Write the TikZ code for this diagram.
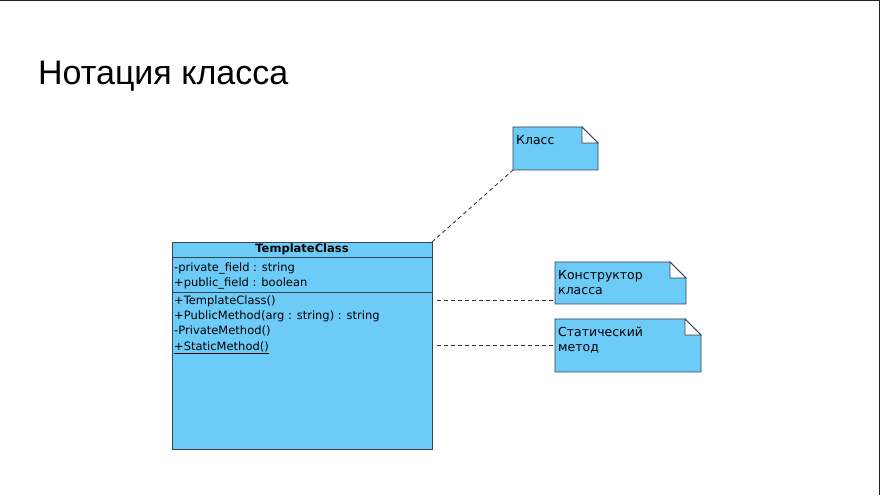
\documentclass[tikz,border=0pt]{standalone}
\usepackage{fontspec}
\setmainfont{Liberation Sans}
\newfontfamily\umlfont{DejaVu Sans}
\usetikzlibrary{positioning}
\definecolor{umlblue}{RGB}{108,203,247}
\definecolor{umledge}{RGB}{55,66,82}
\tikzset{
  classpart/.style = {draw=umledge, fill=umlblue, line width=0.9pt, minimum width=260pt,
    inner sep=0pt, outer sep=0pt, font=\umlfont\fontsize{11.5}{13}\selectfont},
  member/.style = {anchor=west, inner sep=2pt, text height=8.5pt, text depth=2.5pt,
    font=\umlfont\fontsize{11.5}{13}\selectfont},
  notebox/.style = {inner sep=0pt, outer sep=0pt},
  notedraw/.style = {draw=umledge, fill=umlblue, line width=0.9pt},
  notetext/.style = {anchor=north west, align=left, inner xsep=3pt, inner ysep=8pt,
    font=\umlfont\fontsize{12.5}{15}\selectfont},
  attach/.style = {draw=black!80, dash pattern=on 4pt off 3pt, line width=0.8pt},
  frameline/.style = {draw=black!87, line width=1.2pt}
}
\newcommand{\umlnote}[5]{%
  \node[notebox, minimum width=#3, minimum height=#4, anchor=north west] (#1) at #2 {};
  \draw[notedraw] (#1.south west) -- (#1.north west) -- ([xshift=-16pt]#1.north east)
    -- ([yshift=-16pt]#1.north east) -- (#1.south east) -- cycle;
  \draw[notedraw, fill=white] ([xshift=-16pt]#1.north east) |- ([yshift=-16pt]#1.north east) -- cycle;
  \node[notetext] at (#1.north west) {#5};
}

\begin{document}
\begin{tikzpicture}[x=1pt, y=1pt]
  \useasboundingbox (0,0) rectangle (880,495);
  \draw[frameline] (0,494.5) -- (879.5,494.5) -- (879.5,0);
  \node[anchor=base west, inner sep=0pt, font=\fontsize{34}{40}\selectfont] (title) at (38,410) {Нотация класса};
  % class
  \node[classpart, minimum height=15pt, anchor=north west, font=\umlfont\bfseries\fontsize{11.5}{13}\selectfont] (head) at (172,253) {TemplateClass};
  \node[classpart, minimum height=35pt, below=0pt of head] (attrs) {};
  \node[classpart, minimum height=157pt, below=0pt of attrs] (ops) {};
  \node[member] (f1) at ([yshift=-12pt]attrs.north west) {-private\_field : string};
  \node[member] (f2) at ([yshift=-27pt]attrs.north west) {+public\_field : boolean};
  \node[member] (m1) at ([yshift=-10pt]ops.north west) {+TemplateClass()};
  \node[member] (m2) at ([yshift=-25pt]ops.north west) {+PublicMethod(arg : string) : string};
  \node[member] (m3) at ([yshift=-40pt]ops.north west) {-PrivateMethod()};
  \node[member] (m4) at ([yshift=-55.5pt]ops.north west) {\underline{+StaticMethod()}};
  % notes
  \umlnote{nclass}{(513,368)}{85pt}{43pt}{Класс}
  \umlnote{nctor}{(555,233)}{131pt}{42pt}{Конструктор\\класса}
  \umlnote{nstatic}{(555,176)}{146pt}{53pt}{Статический\\метод}
  % anchors
  \draw[attach] ([xshift=5pt, yshift=2pt]m1.west -| ops.east) -- ([yshift=2pt]m1.west -| nctor.west);
  \draw[attach] (head.north east) -- (nclass.south west);
  \draw[attach] ([xshift=5pt, yshift=2pt]m4.west -| ops.east) -- ([yshift=2pt]m4.west -| nstatic.west);
\end{tikzpicture}
\end{document}
